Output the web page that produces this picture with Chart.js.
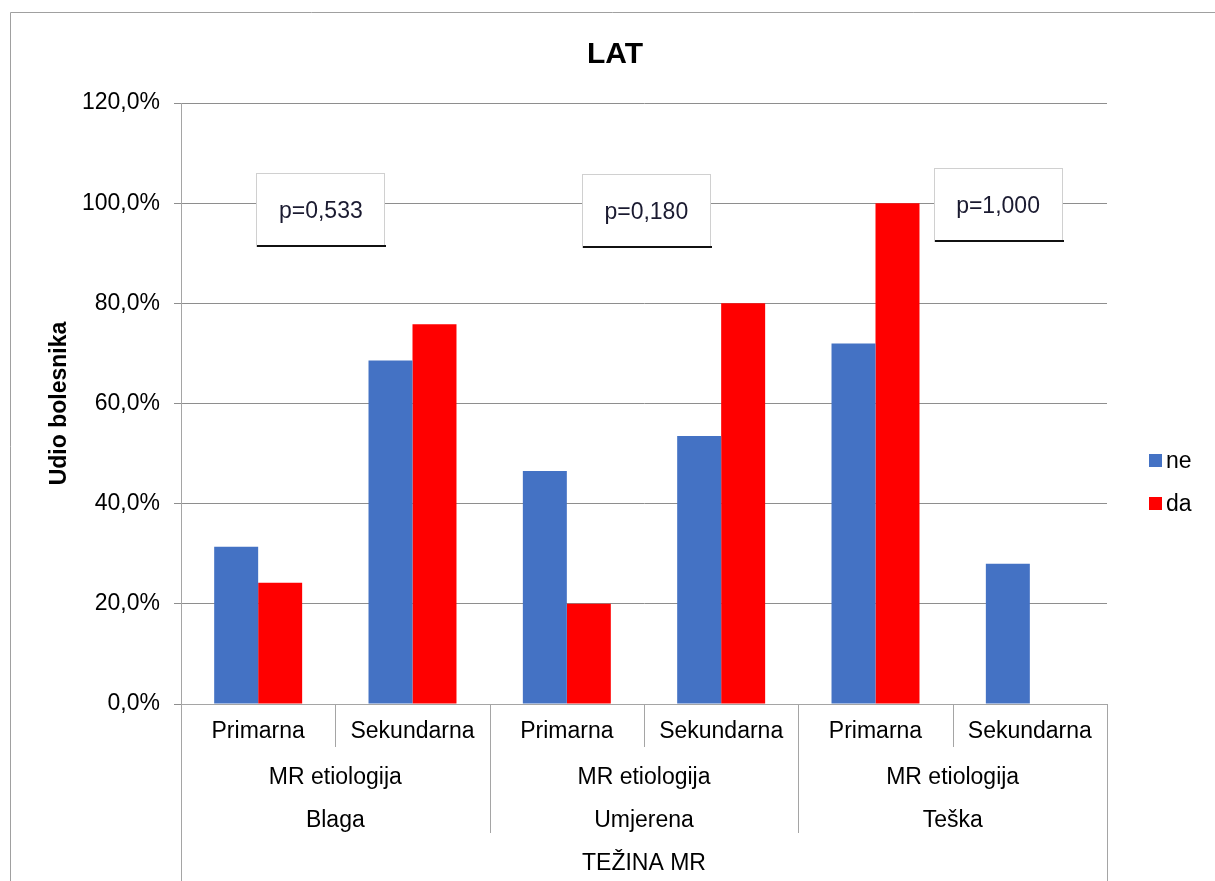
<!DOCTYPE html>
<html>
<head>
<meta charset="utf-8">
<script src="https://cdn.jsdelivr.net/npm/chart.js@4.4.1/dist/chart.umd.min.js"></script>
<style>
html, body { margin: 0; padding: 0; background: #fff; }
#wrap { position: relative; width: 1215px; height: 881px; }
</style>
</head>
<body>
<div id="wrap"><canvas id="chart"></canvas></div>
<script>
// data
const chartTitle = 'LAT';
const yTitle = 'Udio bolesnika';
const categories = ['Primarna', 'Sekundarna', 'Primarna', 'Sekundarna', 'Primarna', 'Sekundarna'];
const etiologyLabel = 'MR etiologija';
const severityLabels = ['Blaga', 'Umjerena', 'Teška'];
const groupTitle = 'TEŽINA MR';
const seriesNames = ['ne', 'da'];
const neValues = [31.4, 68.6, 46.5, 53.5, 72.0, 28.0];
const daValues = [24.2, 75.8, 20.0, 80.0, 100.0, 0.0];
const pLabels = ['p=0,533', 'p=0,180', 'p=1,000'];
const yTicks = [0, 20, 40, 60, 80, 100, 120];

const FONT = '"Liberation Sans", Arial, sans-serif';
const colors = ['#4472C4', '#FF0000'];
// where the p boxes sit, in (category index, percent) units
const pBoxAt = [[0.406, 98.6], [2.515, 98.4], [4.794, 99.6]];

const fmt = v => v.toFixed(1).replace('.', ',') + '%';

const decor = {
  id: 'decor',
  afterDraw(chart) {
    const { ctx, chartArea: a, scales: { x, y } } = chart;
    ctx.save();

    // outer frame
    ctx.strokeStyle = '#a0a0a0';
    ctx.lineWidth = 1;
    ctx.beginPath();
    ctx.moveTo(10.5, 881); ctx.lineTo(10.5, 12.5); ctx.lineTo(1215, 12.5);
    ctx.stroke();

    // title
    ctx.fillStyle = '#000';
    ctx.textAlign = 'center';
    ctx.textBaseline = 'alphabetic';
    ctx.font = 'bold 30px ' + FONT;
    ctx.fillText(chartTitle, 615, 63);

    // y axis title
    ctx.save();
    ctx.translate(66, (a.top + a.bottom) / 2);
    ctx.rotate(-Math.PI / 2);
    ctx.font = 'bold 23px ' + FONT;
    ctx.fillText(yTitle, 0, 0);
    ctx.restore();

    // category separators under the axis
    ctx.strokeStyle = '#a5a5a5';
    for (let i = 0; i <= categories.length; i++) {
      const px = Math.round(x.getPixelForValue(i - 0.5)) + 0.5;
      const end = (i % 6 === 0) ? 881 : (i % 2 === 0 ? 833 : 747);
      ctx.beginPath();
      ctx.moveTo(px, a.bottom);
      ctx.lineTo(px, end);
      ctx.stroke();
    }

    // group labels
    ctx.font = '23px ' + FONT;
    ctx.fillStyle = '#000';
    severityLabels.forEach((s, g) => {
      const cx = (x.getPixelForValue(2 * g) + x.getPixelForValue(2 * g + 1)) / 2;
      ctx.fillText(etiologyLabel, cx, 784);
      ctx.fillText(s, cx, 827);
    });
    ctx.fillText(groupTitle, (a.left + a.right) / 2, 870);

    // p value boxes
    const bw = 129, bh = 74;
    pLabels.forEach((t, k) => {
      const cx = x.getPixelForValue(pBoxAt[k][0]);
      const cy = y.getPixelForValue(pBoxAt[k][1]);
      const l = Math.round(cx - bw / 2), tp = Math.round(cy - bh / 2);
      ctx.fillStyle = '#fff';
      ctx.fillRect(l, tp, bw, bh);
      ctx.strokeStyle = '#d0d0d0';
      ctx.strokeRect(l + 0.5, tp + 0.5, bw - 1, bh - 1);
      ctx.fillStyle = '#111';
      ctx.fillRect(l + 1, tp + bh - 2, bw, 2);
      ctx.fillStyle = '#1a1a30';
      ctx.font = '23px ' + FONT;
      ctx.fillText(t, cx, cy + 8);
    });

    // legend
    ctx.textAlign = 'left';
    const legY = [454, 497];
    seriesNames.forEach((n, i) => {
      ctx.fillStyle = colors[i];
      ctx.fillRect(1149, legY[i], 13, 13);
      ctx.fillStyle = '#000';
      ctx.fillText(n, 1166, legY[i] + 14);
    });

    ctx.restore();
  }
};

new Chart(document.getElementById('chart'), {
  type: 'bar',
  data: {
    labels: categories,
    datasets: [
      { label: seriesNames[0], data: neValues, backgroundColor: colors[0] },
      { label: seriesNames[1], data: daValues, backgroundColor: colors[1] }
    ]
  },
  options: {
    responsive: true,
    maintainAspectRatio: false,
    animation: false,
    layout: { padding: { left: 0, top: 103, right: 108, bottom: 0 } },
    plugins: {
      legend: { display: false },
      title: { display: false },
      tooltip: { enabled: false }
    },
    datasets: { bar: { categoryPercentage: 0.57, barPercentage: 1.0 } },
    scales: {
      x: {
        grid: { display: true, drawOnChartArea: false, drawTicks: false },
        border: { color: '#a5a5a5' },
        ticks: { color: '#000', font: { family: FONT, size: 23 }, padding: 14, maxRotation: 0, autoSkip: false },
        afterFit: s => { s.height = 177; }
      },
      y: {
        min: 0,
        max: 120,
        afterBuildTicks: s => { s.ticks = yTicks.map(v => ({ value: v })); },
        grid: { color: '#8e8e8e', tickLength: 7 },
        border: { color: '#a5a5a5' },
        ticks: { color: '#000', font: { family: FONT, size: 23 }, padding: 14, callback: v => fmt(v) },
        afterFit: s => { s.width = 181; }
      }
    }
  },
  plugins: [decor]
});
</script>
</body>
</html>
